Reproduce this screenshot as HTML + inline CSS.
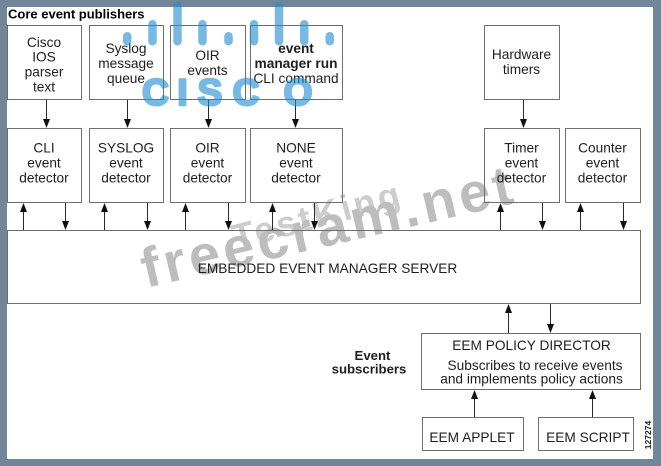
<!DOCTYPE html>
<html>
<head>
<meta charset="utf-8">
<style>
html,body{margin:0;padding:0;background:#72869a;width:661px;height:466px;overflow:hidden;}
svg{display:block}
</style>
</head>
<body>
<svg width="661" height="466" viewBox="0 0 661 466" xmlns="http://www.w3.org/2000/svg">
  <!-- frame -->
  <rect x="0" y="0" width="661" height="466" fill="#72869a"/>
  <rect x="7" y="7" width="646" height="452" fill="#ffffff"/>

  <!-- watermarks (under diagram) -->
  <text x="236" y="250" transform="rotate(-15 236 250)" font-family="Liberation Sans, Arial, sans-serif" font-weight="bold" font-size="36" fill="#cdcdcd" textLength="172" lengthAdjust="spacing">TestKing</text>
  <text x="146" y="288" transform="rotate(-13 146 288)" font-family="Liberation Sans, Arial, sans-serif" font-weight="bold" font-size="56" fill="#bdbdbd" textLength="379" lengthAdjust="spacing">freecram.net</text>

  <!-- boxes -->
  <g fill="none" stroke="#6e6e6e" stroke-width="1">
    <rect x="7.5" y="25.5" width="74" height="74"/>
    <rect x="89.5" y="25.5" width="74" height="74"/>
    <rect x="170.5" y="25.5" width="75" height="74"/>
    <rect x="250.5" y="25.5" width="92" height="74"/>
    <rect x="484.5" y="25.5" width="75" height="74"/>

    <rect x="7.5" y="128.5" width="74" height="74"/>
    <rect x="89.5" y="128.5" width="74" height="74"/>
    <rect x="170.5" y="128.5" width="75" height="74"/>
    <rect x="250.5" y="128.5" width="92" height="74"/>
    <rect x="484.5" y="128.5" width="75" height="74"/>
    <rect x="565.5" y="128.5" width="75" height="74"/>

    <rect x="7.5" y="230.5" width="633" height="73"/>
    <rect x="421.5" y="333.5" width="219" height="56"/>
    <rect x="422.5" y="417.5" width="101" height="33"/>
    <rect x="538.5" y="417.5" width="95" height="33"/>
  </g>

  <!-- connectors -->
  <g stroke="#2a2a2a" stroke-width="1">
    <line x1="46.5" y1="100" x2="46.5" y2="120"/>
    <line x1="127.5" y1="100" x2="127.5" y2="120"/>
    <line x1="208.5" y1="100" x2="208.5" y2="120"/>
    <line x1="295.5" y1="100" x2="295.5" y2="120"/>
    <line x1="523.5" y1="100" x2="523.5" y2="120"/>

    <line x1="65.5" y1="203" x2="65.5" y2="222"/>
    <line x1="147.5" y1="203" x2="147.5" y2="222"/>
    <line x1="228.5" y1="203" x2="228.5" y2="222"/>
    <line x1="314.5" y1="203" x2="314.5" y2="222"/>
    <line x1="542.5" y1="203" x2="542.5" y2="222"/>
    <line x1="623.5" y1="203" x2="623.5" y2="222"/>

    <line x1="23.5" y1="230" x2="23.5" y2="211"/>
    <line x1="104.5" y1="230" x2="104.5" y2="211"/>
    <line x1="185.5" y1="230" x2="185.5" y2="211"/>
    <line x1="272.5" y1="230" x2="272.5" y2="211"/>
    <line x1="500.5" y1="230" x2="500.5" y2="211"/>
    <line x1="580.5" y1="230" x2="580.5" y2="211"/>

    <line x1="508.5" y1="333" x2="508.5" y2="312"/>
    <line x1="550.5" y1="304" x2="550.5" y2="325"/>

    <line x1="474.5" y1="417" x2="474.5" y2="398"/>
    <line x1="592.5" y1="417" x2="592.5" y2="398"/>
  </g>
  <g fill="#111111">
    <polygon points="43,119 50,119 46.5,128"/>
    <polygon points="124,119 131,119 127.5,128"/>
    <polygon points="205,119 212,119 208.5,128"/>
    <polygon points="292,119 299,119 295.5,128"/>
    <polygon points="520,119 527,119 523.5,128"/>

    <polygon points="62,221 69,221 65.5,230"/>
    <polygon points="144,221 151,221 147.5,230"/>
    <polygon points="225,221 232,221 228.5,230"/>
    <polygon points="311,221 318,221 314.5,230"/>
    <polygon points="539,221 546,221 542.5,230"/>
    <polygon points="620,221 627,221 623.5,230"/>

    <polygon points="20,212 27,212 23.5,203"/>
    <polygon points="101,212 108,212 104.5,203"/>
    <polygon points="182,212 189,212 185.5,203"/>
    <polygon points="269,212 276,212 272.5,203"/>
    <polygon points="497,212 504,212 500.5,203"/>
    <polygon points="577,212 584,212 580.5,203"/>

    <polygon points="505,313 512,313 508.5,304"/>
    <polygon points="547,324 554,324 550.5,333"/>

    <polygon points="471,399 478,399 474.5,390"/>
    <polygon points="589,399 596,399 592.5,390"/>
  </g>

  <!-- text -->
  <text x="8" y="18.5" font-family="Liberation Sans, Arial, sans-serif" font-weight="bold" font-size="13" fill="#000">Core event publishers</text>

  <g font-family="Liberation Sans, Arial, sans-serif" font-size="13.7" fill="#1e1e1e" text-anchor="middle">
    <text x="44" y="47">Cisco</text>
    <text x="44" y="61.5">IOS</text>
    <text x="44" y="76.5">parser</text>
    <text x="44" y="91.5">text</text>

    <text x="126" y="53">Syslog</text>
    <text x="126" y="68">message</text>
    <text x="126" y="83">queue</text>

    <text x="207.5" y="60">OIR</text>
    <text x="207.5" y="75">events</text>

    <text x="296" y="53" font-weight="bold">event</text>
    <text x="296" y="68" font-weight="bold">manager run</text>
    <text x="296" y="83">CLI command</text>

    <text x="521.5" y="59">Hardware</text>
    <text x="521.5" y="74">timers</text>

    <text x="44" y="152.5">CLI</text>
    <text x="44" y="167.5">event</text>
    <text x="44" y="182.5">detector</text>

    <text x="126" y="152.5">SYSLOG</text>
    <text x="126" y="167.5">event</text>
    <text x="126" y="182.5">detector</text>

    <text x="207.5" y="152.5">OIR</text>
    <text x="207.5" y="167.5">event</text>
    <text x="207.5" y="182.5">detector</text>

    <text x="296" y="152.5">NONE</text>
    <text x="296" y="167.5">event</text>
    <text x="296" y="182.5">detector</text>

    <text x="521.5" y="152.5">Timer</text>
    <text x="521.5" y="167.5">event</text>
    <text x="521.5" y="182.5">detector</text>

    <text x="602.5" y="152.5">Counter</text>
    <text x="602.5" y="167.5">event</text>
    <text x="602.5" y="182.5">detector</text>

    <text x="327.5" y="273">EMBEDDED EVENT MANAGER SERVER</text>

    <text x="531.5" y="350">EEM POLICY DIRECTOR</text>
    <text x="535" y="370">Subscribes to receive events</text>
    <text x="531.5" y="383.5">and implements policy actions</text>

    <text x="372.5" y="360" font-weight="bold" font-size="13.2">Event</text>
    <text x="369" y="373.5" font-weight="bold" font-size="13.2">subscribers</text>

    <text x="472" y="442">EEM APPLET</text>
    <text x="588" y="442">EEM SCRIPT</text>
  </g>

  <text x="0" y="0" transform="translate(651 435) rotate(-90)" text-anchor="middle" font-family="Liberation Sans, Arial, sans-serif" font-size="8.5" font-weight="bold" fill="#222">127274</text>

  <!-- cisco logo watermark (on top, translucent) -->
  <g opacity="0.6" fill="rgb(30,140,210)">
    <rect x="123" y="32" width="8.5" height="13.5" rx="4.25"/>
    <rect x="148.25" y="20" width="8.5" height="25.5" rx="4.25"/>
    <rect x="173.25" y="2" width="8.5" height="43.5" rx="4.25"/>
    <rect x="198.25" y="20" width="8.5" height="25.5" rx="4.25"/>
    <rect x="224.25" y="32" width="8.5" height="13.5" rx="4.25"/>
    <rect x="249.75" y="20" width="8.5" height="25.5" rx="4.25"/>
    <rect x="274.75" y="2" width="8.5" height="43.5" rx="4.25"/>
    <rect x="300" y="20" width="8.5" height="25.5" rx="4.25"/>
    <rect x="325.5" y="32" width="8.5" height="13.5" rx="4.25"/>
    <g font-family="Liberation Sans, Arial, sans-serif" font-weight="bold" font-size="37" text-anchor="middle" stroke="rgb(30,140,210)" stroke-width="2.6" stroke-linejoin="round">
      <text x="155.5" y="105">C</text>
      <text x="182.5" y="105">I</text>
      <text x="210" y="105">S</text>
      <text x="246" y="105">C</text>
      <text x="298" y="105">O</text>
    </g>
  </g>
</svg>
</body>
</html>
